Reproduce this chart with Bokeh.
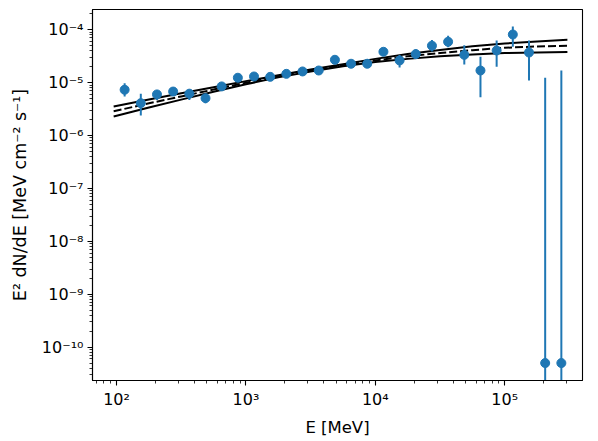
from bokeh.plotting import figure
from bokeh.models import FixedTicker, CustomJSTickFormatter
from bokeh.embed import file_html
from bokeh.resources import INLINE

# --- data ---
energy = [115.5, 154.0, 205.4, 273.8, 365.2, 487.0, 649.4, 866.0, 1154.8, 1539.9,
          2053.5, 2738.4, 3651.7, 4869.7, 6493.8, 8659.6, 11548, 15399, 20535, 27384,
          36517, 48697, 64938, 86596, 115478, 153993, 205353, 273842]
flux = [7.35e-6, 4.1e-6, 6.0e-6, 6.8e-6, 6.2e-6, 5.1e-6, 8.5e-6, 1.24e-5, 1.31e-5, 1.29e-5,
        1.47e-5, 1.63e-5, 1.70e-5, 2.71e-5, 2.28e-5, 2.28e-5, 3.84e-5, 2.63e-5, 3.47e-5, 5.0e-5,
        5.93e-5, 3.36e-5, 1.70e-5, 4.06e-5, 8.15e-5, 3.72e-5, 5.0e-11, 5.0e-11]
flux_lo = [5.5e-6, 2.4e-6, 4.7e-6, 5.66e-6, 4.7e-6, 4.1e-6, 7.5e-6, 1.12e-5, 1.2e-5, 1.18e-5,
           1.34e-5, 1.48e-5, 1.50e-5, 2.45e-5, 2.05e-5, 1.98e-5, 3.45e-5, 1.93e-5, 2.8e-5, 3.9e-5,
           4.7e-5, 2.2e-5, 5.3e-6, 2.0e-5, 4.8e-5, 1.1e-5, 1e-13, 1e-13]
flux_hi = [9.8e-6, 6.2e-6, 7.3e-6, 7.9e-6, 7.4e-6, 6.2e-6, 9.5e-6, 1.36e-5, 1.42e-5, 1.40e-5,
           1.60e-5, 1.78e-5, 1.90e-5, 2.97e-5, 2.51e-5, 2.58e-5, 4.23e-5, 3.35e-5, 4.3e-5, 6.4e-5,
           7.7e-5, 5.1e-5, 3.08e-5, 6.3e-5, 1.15e-4, 6.3e-5, 1.24e-5, 1.70e-5]

model_energy = [95, 178, 316, 562, 1000, 1778, 3162, 5623, 10000, 17783,
                31623, 56234, 100000, 177828, 305000]
model_best = [2.88e-6, 4.07e-6, 5.50e-6, 7.41e-6, 1.00e-5, 1.32e-5, 1.70e-5, 2.14e-5, 2.63e-5, 3.16e-5,
              3.63e-5, 4.12e-5, 4.57e-5, 4.84e-5, 5.01e-5]
model_upper = [3.55e-6, 4.79e-6, 6.31e-6, 8.22e-6, 1.07e-5, 1.38e-5, 1.78e-5, 2.24e-5, 2.82e-5, 3.47e-5,
               4.17e-5, 4.90e-5, 5.50e-5, 6.03e-5, 6.46e-5]
model_lower = [2.29e-6, 3.39e-6, 4.79e-6, 6.76e-6, 9.33e-6, 1.26e-5, 1.62e-5, 2.04e-5, 2.45e-5, 2.82e-5,
               3.16e-5, 3.43e-5, 3.63e-5, 3.72e-5, 3.80e-5]

x_major = [1e2, 1e3, 1e4, 1e5]
y_major = [1e-10, 1e-9, 1e-8, 1e-7, 1e-6, 1e-5, 1e-4]

FONT = "DejaVu Sans"

p = figure(width=598, height=441, x_axis_type="log", y_axis_type="log",
           x_range=(65.2, 3.99e5), y_range=(2.34e-11, 2.42e-4),
           output_backend="svg", toolbar_location=None,
           min_border_left=92, min_border_right=16, min_border_top=9, min_border_bottom=61)

p.background_fill_color = "white"
p.border_fill_color = "white"
p.outline_line_color = "black"
p.outline_line_width = 1.1
p.grid.visible = False

x_minor = [m * 10.0 ** k for k in range(1, 6) for m in range(2, 10)]
y_minor = [m * 10.0 ** k for k in range(-12, -3) for m in range(2, 10)]
p.xaxis.ticker = FixedTicker(ticks=x_major, minor_ticks=x_minor)
p.yaxis.ticker = FixedTicker(ticks=y_major, minor_ticks=y_minor)

fmt_code = """
const e = Math.round(Math.log10(tick));
const sup = {'-':'\\u207B','0':'\\u2070','1':'\\u00B9','2':'\\u00B2','3':'\\u00B3','4':'\\u2074',
             '5':'\\u2075','6':'\\u2076','7':'\\u2077','8':'\\u2078','9':'\\u2079'};
return '10' + String(e).split('').map(c => sup[c]).join('');
"""
p.xaxis.formatter = CustomJSTickFormatter(code=fmt_code)
p.yaxis.formatter = CustomJSTickFormatter(code=fmt_code)

for ax in (p.xaxis[0], p.yaxis[0]):
    ax.axis_line_color = "black"
    ax.axis_line_width = 1.1
    ax.major_tick_line_color = "black"
    ax.minor_tick_line_color = "black"
    ax.major_tick_line_width = 1.1
    ax.minor_tick_line_width = 0.8
    ax.major_tick_out = 5
    ax.major_tick_in = 0
    ax.minor_tick_out = 3
    ax.minor_tick_in = 0
    ax.major_label_text_font = FONT
    ax.major_label_text_font_size = "16px"
    ax.major_label_text_color = "black"
    ax.major_label_standoff = 4
    ax.axis_label_text_font = FONT
    ax.axis_label_text_font_size = "16.5px"
    ax.axis_label_text_font_style = "normal"
    ax.axis_label_text_color = "black"

p.xaxis.axis_label = "E [MeV]"
p.yaxis.axis_label = "E\u00B2 dN/dE [MeV cm\u207B\u00B2 s\u207B\u00B9]"
p.yaxis.axis_label_text_font_size = "17.5px"
p.xaxis.axis_label_standoff = 6
p.yaxis.axis_label_standoff = 9

# model butterfly
p.line(model_energy, model_upper, line_color="black", line_width=2)
p.line(model_energy, model_lower, line_color="black", line_width=2)
p.line(model_energy, model_best, line_color="black", line_width=2, line_dash="8 3")

# data points with error bars
blue = "#1f77b4"
p.segment(x0=energy, y0=flux_lo, x1=energy, y1=flux_hi, line_color=blue, line_width=2)
p.scatter(energy, flux, size=9, fill_color=blue, line_color=blue)

with open("out.html", "w", encoding="utf-8") as f:
    f.write(file_html(p, INLINE))
